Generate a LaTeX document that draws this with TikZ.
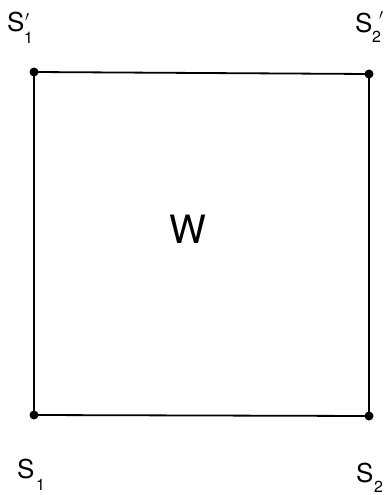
\documentclass[tikz,border=0pt]{standalone}
\usepackage{fontspec}
\setmainfont{TeX Gyre Heros}
\begin{document}
\begin{tikzpicture}[x=1pt,y=-1pt,
  dot/.style={circle,fill,inner sep=0pt,minimum size=9pt},
  edge/.style={line width=1.8pt},
  big/.style={inner sep=0pt,font=\fontsize{26}{26}\selectfont},
  sub/.style={inner sep=0pt,font=\fontsize{16}{16}\selectfont},
  prm/.style={inner sep=0pt,font=\fontsize{15}{15}\selectfont}]
\useasboundingbox (0,0) rectangle (386,495);
\node[dot] (a) at (34,72) {};
\node[dot] (b) at (369,74) {};
\node[dot] (c) at (34,415) {};
\node[dot] (d) at (369,416) {};
\draw[edge] (a.center) -- (b.center) -- (d.center) -- (c.center) -- cycle;
\node[inner sep=0pt,font=\fontsize{39}{39}\selectfont] (w) at (188,229) {W};
% S'_1
\node[big,anchor=base west] (s1p) at (7,32) {S};
\node[prm,anchor=north] (s1pp) at (27,13) {$\prime$};
\node[sub,anchor=base west] (s1pi) at (24,44) {1};
% S'_2
\node[big,anchor=base west] (s2p) at (355,33) {S};
\node[prm,anchor=north] (s2pp) at (381,11) {$\prime$};
\node[sub,anchor=base west] (s2pi) at (372,43) {2};
% S_1
\node[big,anchor=base west] (s1) at (17,478) {S};
\node[sub,anchor=base west] (s1i) at (36,490) {1};
% S_2
\node[big,anchor=base west] (s2) at (356,482) {S};
\node[sub,anchor=base west] (s2i) at (374,492) {2};
\end{tikzpicture}
\end{document}
